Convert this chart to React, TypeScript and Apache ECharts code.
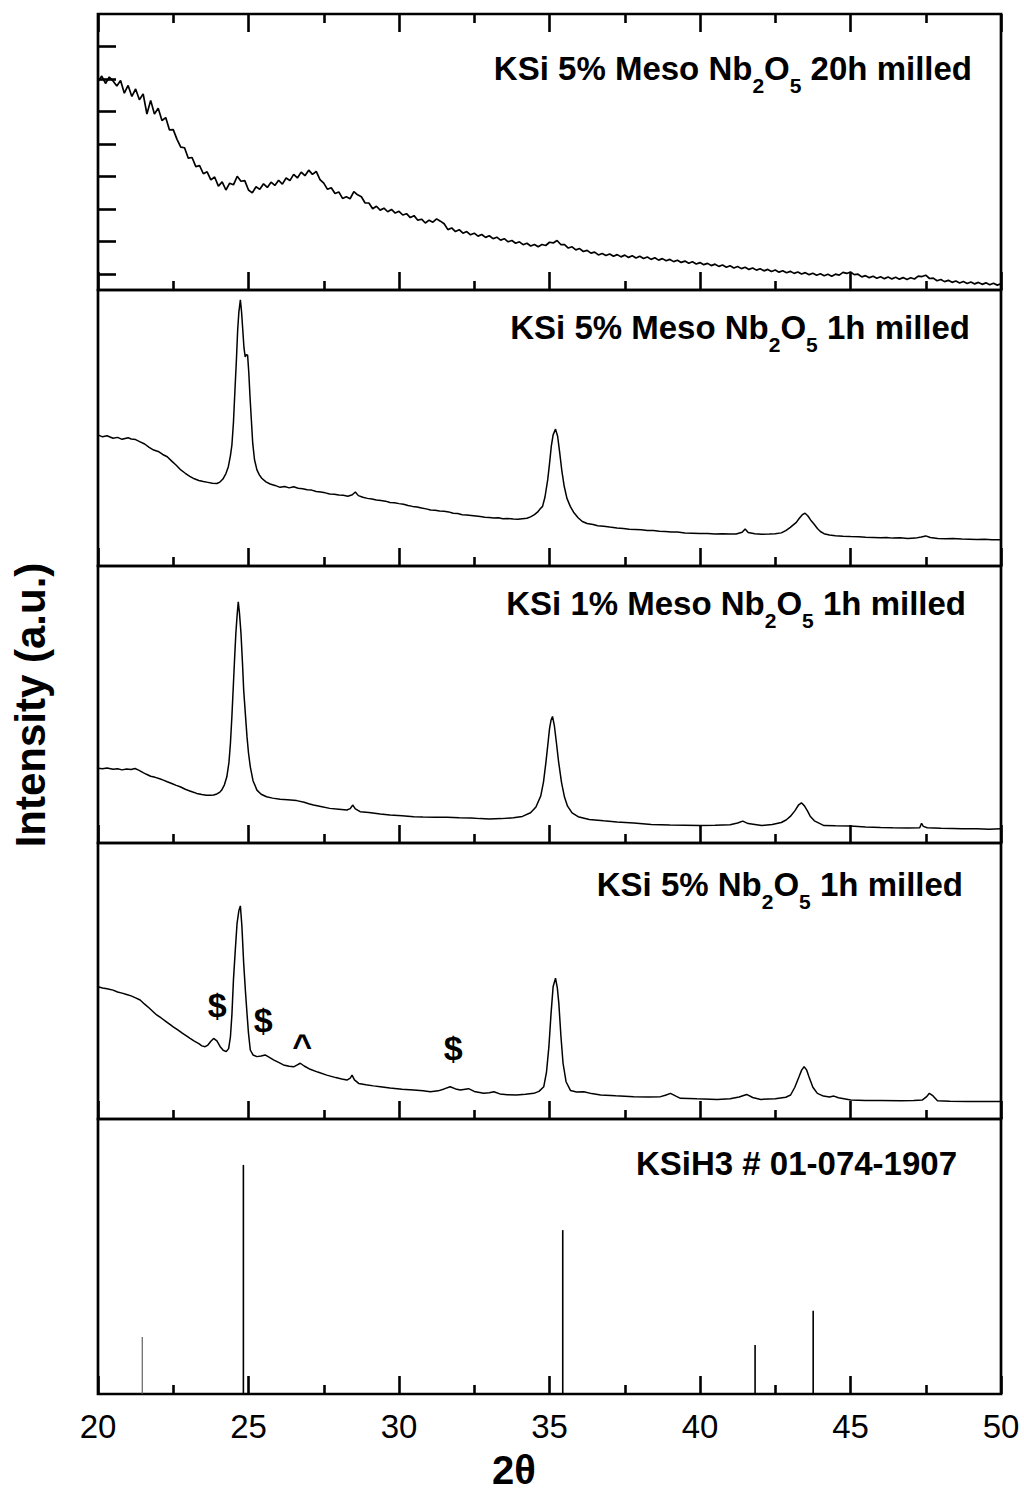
import React, { useEffect, useRef } from "react";
import * as echarts from "echarts";

// 2θ range shared by every panel
const THETA_MIN = 20;
const THETA_MAX = 50;
const THETA_STEP = 5;

// KSi 5% Meso Nb2O5, 20 h milled: raw counts on a 0.125° step grid from 20°
const TOP_START = 20;
const TOP_STEP = 0.125;
const meso5_20h: number[] = [
  3460, 3545, 3430, 3530, 3470, 3390, 3475, 3280, 3400, 3230,
  3345, 3180, 3270, 2960, 3170, 2960, 3050, 2860, 2905, 2715,
  2720, 2570, 2450, 2440, 2280, 2290, 2150, 2165, 2040, 2070,
  1945, 1990, 1850, 1915, 1790, 1895, 1870, 2000, 1925, 1935,
  1790, 1745, 1840, 1800, 1885, 1830, 1910, 1860, 1940, 1880,
  1975, 1935, 2030, 1975, 2065, 2010, 2095, 2030, 2075, 1950,
  1895, 1800, 1825, 1735, 1760, 1660, 1685, 1655, 1765, 1715,
  1685, 1590, 1590, 1500, 1540, 1480, 1510, 1455, 1490, 1435,
  1462, 1405, 1425, 1365, 1395, 1325, 1340, 1282, 1325, 1295,
  1345, 1310, 1270, 1180, 1205, 1150, 1178, 1125, 1150, 1100,
  1125, 1080, 1105, 1060, 1085, 1040, 1063, 1018, 1040, 992,
  1012, 970, 992, 948, 970, 928, 952, 915, 950, 935,
  985, 975, 1012, 950, 950, 896, 915, 868, 888, 843,
  860, 817, 833, 790, 813, 780, 805, 770, 795, 760,
  787, 752, 777, 743, 770, 735, 758, 722, 746, 710,
  733, 700, 721, 687, 709, 675, 695, 662, 684, 650,
  672, 640, 660, 626, 648, 614, 634, 601, 623, 590,
  612, 579, 600, 567, 589, 556, 578, 545, 567, 535,
  557, 525, 546, 515, 537, 506, 527, 496, 517, 486,
  507, 477, 499, 469, 492, 463, 494, 480, 522, 505,
  528, 487, 493, 452, 471, 440, 461, 431, 454, 425,
  449, 421, 445, 417, 441, 413, 438, 419, 463, 457,
  478, 427, 433, 392, 411, 379, 399, 368, 389, 359,
  381, 351, 373, 344, 367, 337, 360, 331, 354, 325, 347,
];
const meso5_20hTicks = [500, 1000, 1500, 2000, 2500, 3000, 3500, 4000];

// KSi 5% Meso Nb2O5, 1 h milled: [2θ, relative intensity]
const meso5_1h: [number, number][] = [
  [20.0, 47.5], [20.15, 46.8], [20.3, 47.2], [20.5, 46.3], [20.65, 46.6], [20.8, 45.9],
  [21.0, 46.5], [21.1, 46.0], [21.25, 45.8], [21.4, 45.0], [21.55, 44.2], [21.7, 43.0],
  [21.85, 42.0], [22.0, 41.5], [22.15, 40.4], [22.3, 39.6], [22.45, 38.0], [22.6, 36.5],
  [22.75, 34.8], [22.9, 33.6], [23.05, 32.5], [23.2, 31.6], [23.35, 31.0], [23.5, 30.6],
  [23.65, 30.3], [23.8, 30.0], [23.95, 29.9], [24.05, 30.4], [24.15, 31.5], [24.25, 33.5],
  [24.33, 36.0], [24.4, 40.0], [24.45, 44.0], [24.5, 52.0], [24.55, 63.8], [24.6, 75.0],
  [24.64, 85.5], [24.68, 92.0], [24.73, 96.4], [24.77, 92.0], [24.81, 85.5], [24.85, 79.0],
  [24.89, 75.8], [24.93, 76.6], [24.97, 76.4], [25.01, 70.0], [25.05, 61.3], [25.1, 52.0],
  [25.14, 44.5], [25.2, 38.5], [25.28, 34.8], [25.36, 33.0], [25.44, 31.8], [25.58, 30.5],
  [25.72, 29.7], [25.88, 29.2], [26.05, 28.5], [26.2, 28.8], [26.35, 28.3], [26.5, 28.7],
  [26.65, 28.2], [26.8, 28.0], [26.95, 27.6], [27.1, 27.5], [27.25, 27.0], [27.4, 26.8],
  [27.55, 26.5], [27.7, 26.1], [27.85, 26.0], [28.0, 25.7], [28.15, 25.6], [28.3, 25.3],
  [28.45, 25.8], [28.55, 26.8], [28.65, 25.5], [28.8, 24.9], [28.95, 24.5], [29.1, 24.3],
  [29.25, 23.9], [29.4, 23.7], [29.55, 23.5], [29.7, 23.0], [29.85, 22.9], [30.0, 22.6],
  [30.15, 22.4], [30.3, 21.9], [30.45, 21.6], [30.6, 21.4], [30.75, 21.0], [30.9, 20.7],
  [31.05, 20.3], [31.2, 20.2], [31.35, 19.9], [31.5, 19.8], [31.65, 19.6], [31.8, 19.1],
  [31.95, 19.0], [32.1, 18.6], [32.25, 18.5], [32.4, 18.3], [32.55, 18.1], [32.7, 17.9],
  [32.85, 17.7], [33.0, 17.6], [33.15, 17.4], [33.3, 17.5], [33.45, 17.1], [33.6, 17.2],
  [33.8, 17.0], [33.95, 16.9], [34.1, 17.1], [34.25, 17.3], [34.37, 17.8], [34.5, 18.6],
  [34.6, 19.5], [34.7, 20.8], [34.77, 21.6], [34.85, 25.0], [34.94, 31.2], [35.0, 37.0],
  [35.06, 43.4], [35.12, 47.5], [35.2, 49.6], [35.27, 47.0], [35.34, 41.0], [35.41, 34.5],
  [35.49, 28.8], [35.58, 24.5], [35.69, 21.6], [35.8, 19.5], [35.95, 17.5], [36.09, 16.1],
  [36.25, 15.4], [36.45, 15.0], [36.6, 14.6], [36.8, 14.4], [37.0, 14.1], [37.24, 13.8],
  [37.45, 13.6], [37.65, 13.3], [37.85, 13.2], [38.05, 13.1], [38.25, 12.9], [38.45, 12.9],
  [38.65, 12.6], [38.85, 12.5], [39.05, 12.3], [39.25, 12.3], [39.5, 12.0], [39.75, 11.9],
  [40.0, 11.8], [40.25, 11.8], [40.5, 11.6], [40.75, 11.7], [41.0, 11.6], [41.2, 11.6],
  [41.4, 12.2], [41.5, 13.4], [41.6, 12.1], [41.82, 11.7], [42.05, 11.5], [42.3, 11.6],
  [42.5, 11.7], [42.7, 12.0], [42.85, 12.8], [43.0, 14.0], [43.1, 14.9], [43.2, 15.8],
  [43.3, 17.3], [43.4, 18.6], [43.49, 19.1], [43.58, 18.2], [43.68, 16.6], [43.78, 15.3],
  [43.9, 13.6], [44.0, 12.5], [44.12, 11.7], [44.3, 11.2], [44.5, 11.0], [44.75, 10.8],
  [45.0, 10.7], [45.27, 10.6], [45.5, 10.4], [45.75, 10.3], [46.0, 10.2], [46.2, 10.3],
  [46.4, 10.1], [46.65, 10.2], [46.9, 10.0], [47.15, 10.1], [47.35, 10.5], [47.5, 10.9],
  [47.65, 10.3], [47.9, 10.0], [48.15, 9.9], [48.4, 10.0], [48.7, 9.8], [48.95, 9.7],
  [49.2, 9.6], [49.45, 9.7], [49.7, 9.5], [50.0, 9.5],
];

// KSi 1% Meso Nb2O5, 1 h milled
const meso1_1h: [number, number][] = [
  [20.0, 27.0], [20.15, 26.8], [20.3, 27.1], [20.5, 26.6], [20.65, 26.8], [20.8, 26.4],
  [20.95, 26.7], [21.1, 26.5], [21.23, 26.9], [21.35, 26.3], [21.5, 25.4], [21.61, 24.8],
  [21.75, 24.1], [21.9, 23.7], [22.05, 23.2], [22.17, 22.7], [22.3, 22.1], [22.45, 21.5],
  [22.6, 20.8], [22.73, 20.3], [22.9, 19.4], [23.05, 18.8], [23.15, 18.4], [23.28, 17.9],
  [23.45, 17.5], [23.6, 17.2], [23.75, 17.2], [23.84, 17.3], [23.95, 17.7], [24.05, 18.4],
  [24.11, 19.1], [24.2, 21.0], [24.28, 23.9], [24.35, 29.0], [24.4, 36.0], [24.45, 46.0],
  [24.5, 57.7], [24.54, 67.0], [24.58, 75.7], [24.62, 82.0], [24.66, 87.1], [24.7, 83.0],
  [24.75, 75.7], [24.8, 65.0], [24.84, 55.2], [24.9, 46.0], [24.95, 38.4], [25.0, 32.5],
  [25.06, 27.5], [25.15, 22.5], [25.28, 19.1], [25.42, 17.6], [25.6, 16.7], [25.8, 16.2],
  [26.05, 15.8], [26.3, 15.6], [26.6, 15.3], [26.85, 14.7], [27.0, 14.2], [27.16, 13.7],
  [27.4, 13.2], [27.7, 12.5], [28.0, 12.2], [28.27, 11.9], [28.38, 12.4], [28.46, 13.7],
  [28.55, 12.3], [28.71, 11.3], [29.0, 11.0], [29.38, 10.5], [29.7, 10.1], [30.1, 9.8],
  [30.49, 9.5], [30.8, 9.4], [31.2, 9.3], [31.6, 9.3], [32.0, 9.1], [32.4, 9.0],
  [32.7, 8.8], [33.0, 8.7], [33.4, 8.8], [33.8, 9.1], [34.1, 9.6], [34.37, 10.9],
  [34.55, 13.0], [34.71, 17.0], [34.8, 22.0], [34.88, 29.0], [34.95, 36.0], [35.0, 41.2],
  [35.05, 44.3], [35.1, 45.7], [35.16, 42.5], [35.23, 36.2], [35.3, 29.5], [35.4, 21.8],
  [35.5, 16.5], [35.6, 13.3], [35.75, 10.9], [35.95, 9.5], [36.32, 8.5], [36.8, 8.0],
  [37.24, 7.6], [37.8, 7.2], [38.38, 6.7], [39.0, 6.5], [39.5, 6.4], [39.99, 6.3],
  [40.5, 6.4], [41.0, 6.6], [41.25, 7.2], [41.42, 7.9], [41.6, 7.0], [42.05, 6.3],
  [42.4, 6.7], [42.7, 7.4], [42.86, 8.3], [43.0, 9.6], [43.15, 11.6], [43.28, 13.8],
  [43.37, 14.5], [43.47, 13.4], [43.57, 11.6], [43.66, 9.7], [43.8, 8.0], [44.12, 6.3],
  [44.5, 6.2], [45.0, 6.1], [45.5, 5.8], [46.0, 5.6], [46.4, 5.5], [46.9, 5.4],
  [47.3, 5.5], [47.36, 7.1], [47.42, 6.0], [47.55, 5.5], [48.0, 5.3], [48.4, 5.2],
  [48.7, 5.1], [49.2, 5.1], [49.6, 5.0], [50.0, 5.1],
];

// KSi 5% Nb2O5, 1 h milled
const nb5_1h: [number, number][] = [
  [20.0, 47.9], [20.15, 47.5], [20.3, 47.2], [20.5, 46.7], [20.65, 46.0], [20.8, 45.6],
  [20.95, 45.1], [21.1, 44.6], [21.25, 43.9], [21.4, 43.1], [21.55, 41.6], [21.7, 40.2],
  [21.85, 38.7], [21.95, 37.7], [22.1, 36.6], [22.25, 35.4], [22.4, 34.2], [22.5, 33.4],
  [22.65, 32.3], [22.8, 31.1], [22.95, 30.0], [23.06, 29.2], [23.2, 28.2], [23.35, 27.3],
  [23.45, 26.5], [23.56, 26.2], [23.65, 26.8], [23.75, 28.2], [23.84, 29.2], [23.95, 28.3],
  [24.06, 26.2], [24.16, 24.9], [24.26, 24.4], [24.34, 25.5], [24.4, 29.8], [24.45, 38.0],
  [24.5, 50.4], [24.56, 61.0], [24.62, 70.9], [24.68, 75.5], [24.73, 77.2], [24.78, 70.0],
  [24.84, 56.4], [24.9, 46.0], [24.95, 38.3], [25.0, 31.0], [25.06, 25.0], [25.15, 23.2],
  [25.28, 22.6], [25.42, 22.8], [25.55, 23.2], [25.68, 22.4], [25.83, 21.4], [26.0, 20.5],
  [26.16, 19.6], [26.35, 19.1], [26.5, 18.9], [26.62, 19.6], [26.72, 20.2], [26.85, 19.2],
  [27.05, 18.0], [27.3, 17.0], [27.6, 15.9], [27.9, 15.0], [28.1, 14.5], [28.27, 14.1],
  [28.38, 14.8], [28.44, 15.9], [28.52, 14.2], [28.66, 12.9], [28.9, 12.4], [29.15, 12.0],
  [29.38, 11.7], [29.7, 11.2], [30.1, 10.8], [30.49, 10.5], [30.8, 10.2], [31.04, 9.9],
  [31.3, 10.2], [31.5, 10.9], [31.7, 11.7], [31.88, 10.9], [32.04, 10.5], [32.2, 10.8],
  [32.31, 11.0], [32.5, 10.0], [32.81, 9.3], [33.0, 9.5], [33.15, 9.9], [33.35, 9.1],
  [33.6, 8.8], [33.9, 8.7], [34.2, 9.0], [34.48, 9.3], [34.65, 10.0], [34.81, 11.7],
  [34.9, 17.0], [34.98, 26.2], [35.05, 38.0], [35.12, 47.9], [35.2, 51.0], [35.26, 47.5],
  [35.31, 41.9], [35.38, 30.0], [35.45, 20.2], [35.55, 13.5], [35.7, 10.3], [35.9, 9.8],
  [36.14, 9.9], [36.4, 9.2], [36.7, 8.7], [37.2, 8.4], [37.8, 8.1], [38.3, 8.0],
  [38.69, 8.1], [38.85, 8.6], [39.02, 9.3], [39.2, 8.3], [39.35, 7.5], [39.9, 7.3],
  [40.57, 7.1], [41.0, 7.3], [41.3, 8.0], [41.55, 8.9], [41.75, 7.8], [42.02, 7.1],
  [42.5, 7.3], [42.85, 7.9], [43.01, 8.7], [43.15, 11.5], [43.29, 15.3], [43.38, 17.8],
  [43.46, 18.9], [43.54, 17.8], [43.62, 15.3], [43.75, 11.5], [43.9, 9.3], [44.1, 8.3],
  [44.3, 8.0], [44.45, 8.3], [44.6, 7.7], [45.01, 6.9], [45.5, 6.7], [46.0, 6.7],
  [46.67, 6.6], [47.1, 6.7], [47.39, 6.9], [47.52, 8.0], [47.62, 9.3], [47.72, 8.6],
  [47.89, 6.6], [48.3, 6.4], [48.89, 6.3], [49.4, 6.3], [50.0, 6.3],
];

// Phase markers on the KSi 5% Nb2O5 pattern: [2θ, intensity, symbol]
const nb5_1hMarks: [number, number, string][] = [
  [23.96, 41.3, "$"],
  [25.49, 35.9, "$"],
  [26.78, 26.8, "^"],
  [31.8, 25.7, "$"],
];

// KSiH3 reference card 01-074-1907: [2θ, relative intensity]
const ksih3Lines: [number, number][] = [
  [21.47, 20.7],
  [24.83, 83.3],
  [35.44, 59.6],
  [41.83, 17.8],
  [43.76, 30.3],
];

// Panel captions; odd entries are subscripts
const panelTitles: string[][] = [
  ["KSi 5% Meso Nb", "2", "O", "5", " 20h milled"],
  ["KSi 5% Meso Nb", "2", "O", "5", " 1h milled"],
  ["KSi 1% Meso Nb", "2", "O", "5", " 1h milled"],
  ["KSi 5% Nb", "2", "O", "5", " 1h milled"],
  ["KSiH3 # 01-074-1907"],
];
const xTitle = "2θ";
const yTitle = "Intensity (a.u.)";

const FONT = '"Liberation Sans", Arial, Helvetica, sans-serif';

// layout of the five stacked panels (pixels)
const GRID_LEFT = 98;
const GRID_RIGHT = 23;
const PANEL_TOPS = [14, 290, 566, 843, 1119];
const PANEL_HEIGHTS = [276, 276, 277, 276, 275];
const TITLE_RIGHT = [972, 970, 966, 963, 957];
const TITLE_TOP = [52, 311, 587, 868, 1147];

function richTitle(parts: string[]): string {
  return parts.map((p, k) => (k % 2 ? `{s|${p}}` : `{m|${p}}`)).join("");
}

export default function App() {
  const ref = useRef<HTMLDivElement>(null);

  useEffect(() => {
    document.body.style.margin = "0";
    if (!ref.current) return;
    const chart = echarts.init(ref.current, undefined, { renderer: "svg" });

    const topPairs = meso5_20h.map((v, i) => [TOP_START + i * TOP_STEP, v]);

    const tickStyle = { color: "#000", width: 2.6 };

    const grids = PANEL_TOPS.map((top, i) => ({
      left: GRID_LEFT,
      right: GRID_RIGHT,
      top,
      height: PANEL_HEIGHTS[i],
      show: true,
      borderColor: "#000",
      borderWidth: 2.7,
      backgroundColor: "transparent",
      containLabel: false,
    }));

    const bottomAxes = PANEL_TOPS.map((_, i) => ({
      type: "value",
      gridIndex: i,
      position: "bottom",
      min: THETA_MIN,
      max: THETA_MAX,
      interval: THETA_STEP,
      axisLine: { show: false },
      splitLine: { show: false },
      axisTick: { show: true, inside: true, length: 18, lineStyle: tickStyle },
      minorTick: { show: true, splitNumber: 2, length: 9, lineStyle: tickStyle },
      minorSplitLine: { show: false },
      axisLabel: {
        show: i === PANEL_TOPS.length - 1,
        color: "#000",
        fontFamily: FONT,
        fontSize: 33,
        margin: 16,
        showMinLabel: true,
        showMaxLabel: true,
      },
    }));

    const topAxis = {
      type: "value",
      gridIndex: 0,
      position: "top",
      min: THETA_MIN,
      max: THETA_MAX,
      interval: THETA_STEP,
      axisLine: { show: false },
      splitLine: { show: false },
      axisTick: { show: true, inside: true, length: 18, lineStyle: tickStyle },
      minorTick: { show: true, splitNumber: 2, length: 9, lineStyle: tickStyle },
      axisLabel: { show: false },
    };

    const yAxes = PANEL_TOPS.map((_, i) => ({
      type: "value",
      gridIndex: i,
      min: i === 0 ? 250 : 0,
      max: i === 0 ? 4500 : 100,
      axisLine: { show: false },
      splitLine: { show: false },
      axisLabel: { show: false },
      axisTick:
        i === 0
          ? {
              show: true,
              inside: true,
              length: 18,
              customValues: meso5_20hTicks,
              lineStyle: tickStyle,
            }
          : { show: false },
    }));

    const lineSeries = (data: number[][], idx: number, width: number) => ({
      type: "line",
      xAxisIndex: idx,
      yAxisIndex: idx,
      data,
      showSymbol: false,
      symbol: "none",
      smooth: false,
      clip: true,
      lineStyle: { color: "#000", width },
      silent: true,
    });

    const titleElements = panelTitles.map((parts, i) => ({
      type: "text",
      x: TITLE_RIGHT[i],
      y: TITLE_TOP[i],
      silent: true,
      style: {
        text: richTitle(parts),
        align: "right",
        verticalAlign: "top",
        textAlign: "right",
        textVerticalAlign: "top",
        fill: "#000",
        rich: {
          m: {
            fontFamily: FONT,
            fontSize: 33,
            fontWeight: "bold",
            lineHeight: 33,
            verticalAlign: "top",
            fill: "#000",
          },
          s: {
            fontFamily: FONT,
            fontSize: 21,
            fontWeight: "bold",
            verticalAlign: "top",
            padding: [23, 0, 0, 0],
            fill: "#000",
          },
        },
      },
    }));

    chart.setOption({
      animation: false,
      backgroundColor: "#fff",
      grid: grids,
      xAxis: [...bottomAxes, topAxis],
      yAxis: yAxes,
      series: [
        lineSeries(topPairs, 0, 1.7),
        lineSeries(meso5_1h, 1, 1.5),
        lineSeries(meso1_1h, 2, 1.5),
        lineSeries(nb5_1h, 3, 1.5),
        {
          type: "scatter",
          xAxisIndex: 3,
          yAxisIndex: 3,
          symbolSize: 0,
          silent: true,
          itemStyle: { opacity: 1, color: "#000" },
          data: nb5_1hMarks.map(([x, y, s]) => ({ value: [x, y], name: s })),
          label: {
            show: true,
            position: "inside",
            formatter: (p: any) => p.name,
            color: "#000",
            opacity: 1,
            fontFamily: FONT,
            fontSize: 34,
            fontWeight: "bold",
          },
        },
        {
          type: "custom",
          xAxisIndex: 4,
          yAxisIndex: 4,
          silent: true,
          clip: true,
          data: ksih3Lines,
          encode: { x: 0, y: 1 },
          renderItem: (params: any, api: any) => {
            const x = api.value(0);
            const h = api.value(1);
            const base = api.coord([x, 0]);
            const tip = api.coord([x, h]);
            const faint = params.dataIndex === 0;
            return {
              type: "line",
              shape: { x1: base[0], y1: base[1], x2: tip[0], y2: tip[1] },
              style: { stroke: faint ? "#555" : "#000", lineWidth: faint ? 1.1 : 1.6 },
            };
          },
        },
      ],
      graphic: [
        ...titleElements,
        {
          type: "text",
          x: 30,
          y: 705,
          rotation: Math.PI / 2,
          silent: true,
          style: {
            text: yTitle,
            align: "center",
            verticalAlign: "middle",
            textAlign: "center",
            textVerticalAlign: "middle",
            font: `bold 42px ${FONT}`,
            fill: "#000",
          },
        },
        {
          type: "text",
          x: 514,
          y: 1470,
          silent: true,
          style: {
            text: xTitle,
            align: "center",
            verticalAlign: "middle",
            textAlign: "center",
            textVerticalAlign: "middle",
            font: `bold 40px ${FONT}`,
            fill: "#000",
          },
        },
      ],
    });

    return () => chart.dispose();
  }, []);

  return <div ref={ref} style={{ width: 1024, height: 1493 }} />;
}
